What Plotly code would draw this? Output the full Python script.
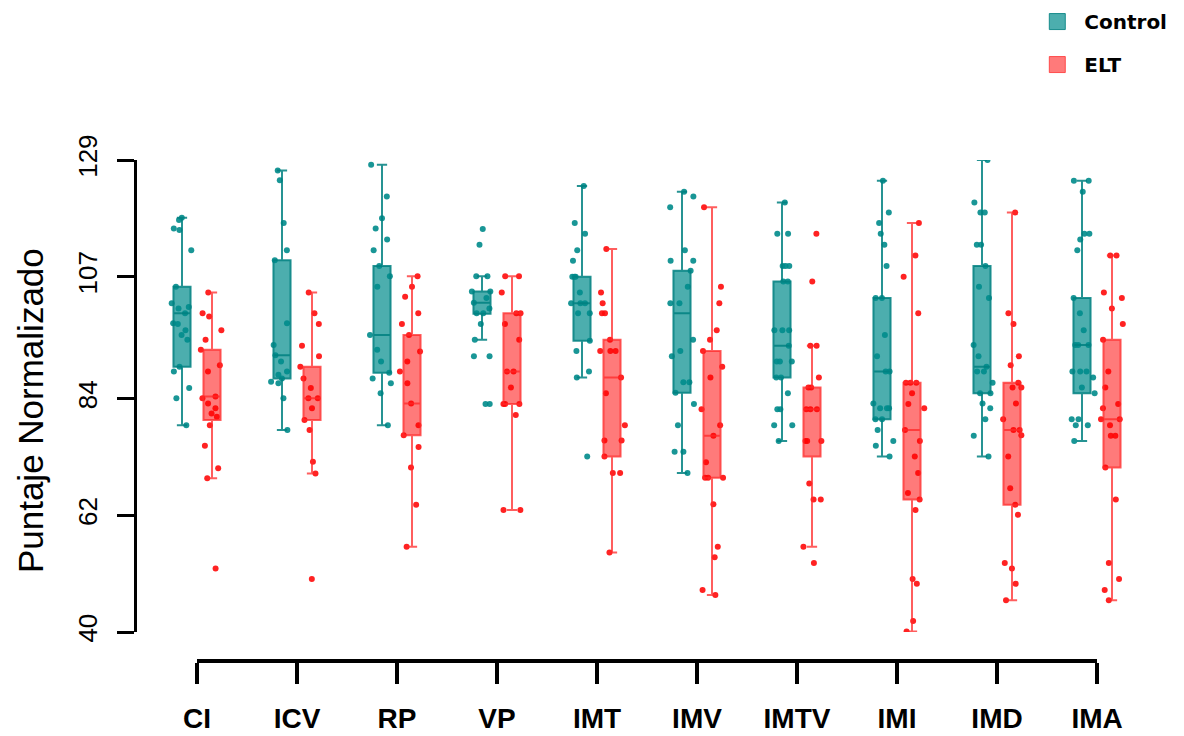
import plotly.graph_objects as go

categories = ["CI", "ICV", "RP", "VP", "IMT", "IMV", "IMTV", "IMI", "IMD", "IMA"]
groups = ["Control", "ELT"]

# Box statistics
control_lower = [79.0, 78.1, 79.0, 95.1, 88.0, 70.0, 76.0, 73.1, 73.1, 76.0]
control_q1 = [90.0, 87.8, 88.9, 100.0, 94.9, 85.1, 88.0, 80.1, 85.0, 85.0]
control_median = [100.1, 92.2, 96.0, 102.1, 102.0, 100.1, 94.0, 89.1, 90.0, 94.1]
control_q3 = [105.1, 110.1, 109.0, 104.2, 107.0, 108.1, 106.1, 103.0, 109.0, 103.0]
control_upper = [118.1, 127.0, 128.1, 107.1, 124.1, 123.0, 121.0, 125.1, 129.0, 125.1]

elt_lower = [69.0, 69.9, 56.1, 63.0, 55.0, 47.0, 56.1, 40.1, 46.0, 46.0]
elt_q1 = [80.0, 80.0, 77.1, 83.0, 73.1, 69.1, 73.1, 65.0, 64.0, 71.0]
elt_median = [84.4, 84.1, 83.1, 89.1, 88.0, 77.0, 82.0, 78.1, 78.1, 80.1]
elt_q3 = [93.2, 90.0, 96.0, 100.1, 95.1, 93.0, 86.1, 87.0, 87.0, 95.1]
elt_upper = [104.0, 104.0, 107.1, 107.1, 112.2, 120.1, 94.0, 117.1, 119.1, 111.0]

# Individual scores per category
control_points = [
    [118.1, 117.7, 116.1, 115.8, 112.0, 105.1, 102.0, 101.3, 101.0, 100.1, 98.2, 98.1, 96.9, 96.0, 95.1, 90.0, 89.1, 86.0, 84.1, 79.0],
    [127.0, 125.2, 117.1, 112.0, 110.1, 98.2, 94.1, 92.2, 91.0, 89.1, 88.5, 87.8, 87.2, 86.9, 84.1, 78.1],
    [128.1, 122.1, 118.0, 116.1, 114.0, 112.0, 109.0, 107.1, 105.1, 96.0, 93.2, 91.0, 88.9, 87.8, 86.9, 85.0, 79.0],
    [116.0, 113.0, 107.1, 107.1, 104.2, 104.2, 103.0, 102.1, 101.0, 100.1, 100.1, 98.1, 95.1, 92.0, 92.0, 83.0, 83.0],
    [124.1, 117.1, 115.1, 112.0, 110.0, 107.0, 107.0, 107.0, 104.0, 102.0, 102.0, 102.0, 100.1, 100.1, 94.9, 93.0, 89.1, 88.0, 73.1],
    [123.0, 122.1, 120.1, 112.0, 110.0, 110.0, 108.1, 105.1, 102.0, 102.0, 95.1, 93.0, 92.0, 87.1, 87.1, 85.1, 83.0, 79.0, 74.0, 74.0, 70.0],
    [121.0, 115.1, 115.1, 109.0, 109.0, 109.0, 106.1, 106.1, 96.9, 96.9, 96.9, 94.0, 91.0, 91.0, 91.0, 88.0, 88.0, 85.0, 82.0, 82.0, 79.0, 79.0, 76.0],
    [125.1, 119.1, 117.1, 115.1, 113.0, 109.0, 103.0, 103.0, 96.0, 92.0, 89.1, 89.1, 83.1, 82.2, 82.2, 82.2, 80.1, 80.1, 78.1, 76.0, 75.1, 73.1],
    [129.0, 121.0, 119.1, 119.1, 113.0, 113.0, 109.0, 105.1, 103.0, 94.1, 92.0, 90.0, 89.1, 89.1, 87.0, 85.0, 85.0, 83.1, 82.2, 80.1, 77.0, 73.1],
    [125.1, 125.1, 123.0, 115.1, 115.1, 114.0, 112.0, 103.0, 100.1, 96.9, 94.1, 94.1, 94.1, 89.1, 89.1, 89.1, 88.0, 86.1, 85.0, 80.1, 80.1, 79.0, 79.0, 76.0],
]
elt_points = [
    [104.0, 100.1, 99.5, 96.9, 95.1, 93.2, 90.3, 89.1, 84.4, 84.1, 83.1, 82.2, 81.2, 80.6, 79.0, 75.1, 70.9, 69.0, 52.0],
    [104.0, 100.1, 98.1, 94.0, 92.0, 90.0, 87.8, 86.0, 84.1, 84.1, 82.2, 80.0, 78.1, 72.1, 69.9, 50.0],
    [107.1, 105.1, 103.2, 100.1, 98.1, 96.0, 92.9, 91.0, 89.1, 86.9, 83.1, 79.0, 77.1, 74.9, 71.0, 64.0, 56.1],
    [107.1, 107.1, 104.0, 100.1, 100.1, 98.1, 95.1, 89.1, 89.1, 86.1, 83.0, 83.0, 83.0, 80.9, 63.0, 63.0],
    [112.2, 104.0, 102.0, 100.1, 100.1, 95.1, 93.0, 93.0, 93.0, 88.0, 85.0, 79.0, 76.1, 76.1, 73.1, 70.0, 70.0, 55.0],
    [120.1, 105.1, 102.0, 96.9, 95.1, 93.0, 90.0, 88.0, 82.0, 79.0, 77.0, 72.0, 69.1, 69.1, 69.1, 64.1, 56.1, 54.1, 47.9, 47.0],
    [115.1, 106.1, 94.0, 94.0, 88.0, 86.1, 86.1, 82.0, 82.0, 82.0, 76.0, 76.0, 76.0, 68.0, 65.0, 65.0, 56.1, 53.0],
    [117.1, 111.0, 107.0, 100.1, 87.0, 87.0, 87.0, 85.0, 83.0, 82.2, 78.1, 76.0, 73.1, 70.0, 66.2, 65.0, 63.0, 50.0, 49.1, 42.1, 40.1],
    [119.1, 100.1, 98.1, 92.0, 90.3, 87.0, 86.1, 86.1, 83.1, 80.1, 78.1, 78.1, 77.1, 73.1, 67.1, 64.0, 62.1, 53.0, 52.0, 49.1, 46.0],
    [111.0, 111.0, 104.0, 103.0, 101.0, 98.1, 95.1, 89.1, 86.1, 83.0, 82.2, 80.1, 80.1, 79.0, 77.0, 77.0, 71.0, 65.0, 53.0, 50.0, 47.9, 46.0],
]

y_ticks = [40, 62, 84, 107, 129]
y_title = "Puntaje Normalizado"

box_fill = {"Control": "rgba(0,139,139,0.70)", "ELT": "rgba(255,0,0,0.52)"}
box_line = {"Control": "rgba(0,128,128,0.85)", "ELT": "rgba(255,40,40,0.75)"}
pt_color = {"Control": "rgba(0,139,139,0.90)", "ELT": "rgba(255,10,10,0.90)"}

stats = {
    "Control": (control_lower, control_q1, control_median, control_q3, control_upper, control_points),
    "ELT": (elt_lower, elt_q1, elt_median, elt_q3, elt_upper, elt_points),
}

fig = go.Figure()

for g in groups:
    lo, q1, med, q3, up, _ = stats[g]
    fig.add_trace(go.Box(
        name=g, x=categories, q1=q1, median=med, q3=q3,
        lowerfence=lo, upperfence=up,
        boxpoints=False, fillcolor=box_fill[g],
        line=dict(color=box_line[g], width=2),
        whiskerwidth=0.6,
        offsetgroup=g, alignmentgroup="boxes",
        showlegend=False,
    ))

for g in groups:
    pts = stats[g][5]
    xs, ys = [], []
    for c, vals in zip(categories, pts):
        xs += [c] * len(vals)
        ys += vals
    fig.add_trace(go.Violin(
        name=g, x=xs, y=ys, points="all", jitter=1, pointpos=0,
        line=dict(width=0), fillcolor="rgba(0,0,0,0)",
        box_visible=False, meanline_visible=False, hoveron="points",
        marker=dict(color=pt_color[g], size=6),
        offsetgroup=g, alignmentgroup="points",
        showlegend=False,
    ))

# legend entries (square swatches)
for g in groups:
    fig.add_trace(go.Scatter(
        name=g, x=[categories[0]], y=[None], mode="markers",
        marker=dict(symbol="square", size=22, color=box_fill[g],
                    line=dict(color=box_line[g], width=1)),
        legendgroup=g, showlegend=True, hoverinfo="skip",
    ))

# invisible helper trace so that the bracket-style category axis is drawn
fig.add_trace(go.Scatter(
    x=categories, y=[None] * len(categories), xaxis="x2", yaxis="y",
    mode="markers", showlegend=False, hoverinfo="skip",
))

fig.add_annotation(
    text=y_title, textangle=-90, xref="paper", yref="paper",
    x=-0.1078, y=0.528, xanchor="center", yanchor="middle", showarrow=False,
    font=dict(size=35, family="Arial, Liberation Sans, sans-serif", color="black"),
)

fig.update_layout(
    width=1184, height=736,
    paper_bgcolor="white", plot_bgcolor="rgba(0,0,0,0)",
    margin=dict(l=129, r=62, t=152, b=54, autoexpand=False),
    boxmode="group", boxgap=0.4, boxgroupgap=0.43,
    violinmode="group", violingap=0.4, violingroupgap=0.13,
    font=dict(family="Arial, Liberation Sans, sans-serif", color="black"),
    xaxis=dict(
        type="category", categoryorder="array", categoryarray=categories,
        range=[-0.6, 9.33], domain=[0, 1],
        showline=False, showticklabels=False, ticks="", showgrid=False, zeroline=False,
    ),
    xaxis2=dict(
        type="category", categoryorder="array", categoryarray=categories,
        range=[0, 9], domain=[0.0604, 0.9668], anchor="free", position=0.0547,
        showline=True, linewidth=4, linecolor="black",
        ticks="outside", ticklen=21, tickwidth=4, tickcolor="black",
        tickfont=dict(size=28, weight="bold", family="Arial, Liberation Sans, sans-serif"),
        ticklabelstandoff=10,
        showgrid=False, zeroline=False,
    ),
    yaxis=dict(
        range=[40, 129], domain=[0.1094, 1], tickvals=y_ticks,
        showline=True, linewidth=3, linecolor="black",
        ticks="outside", ticklen=17, tickwidth=3, tickcolor="black",
        tickangle=-90, tickfont=dict(size=26),
        ticklabelstandoff=10,
        showgrid=False, zeroline=False,
    ),
    legend=dict(
        x=0.8996, y=1.298, xanchor="left", yanchor="top",
        font=dict(family="DejaVu Sans, sans-serif", size=20, weight="bold"),
        traceorder="grouped", tracegroupgap=14, bgcolor="rgba(0,0,0,0)",
        itemsizing="trace", itemwidth=44,
    ),
)

fig.write_html("out.html")
